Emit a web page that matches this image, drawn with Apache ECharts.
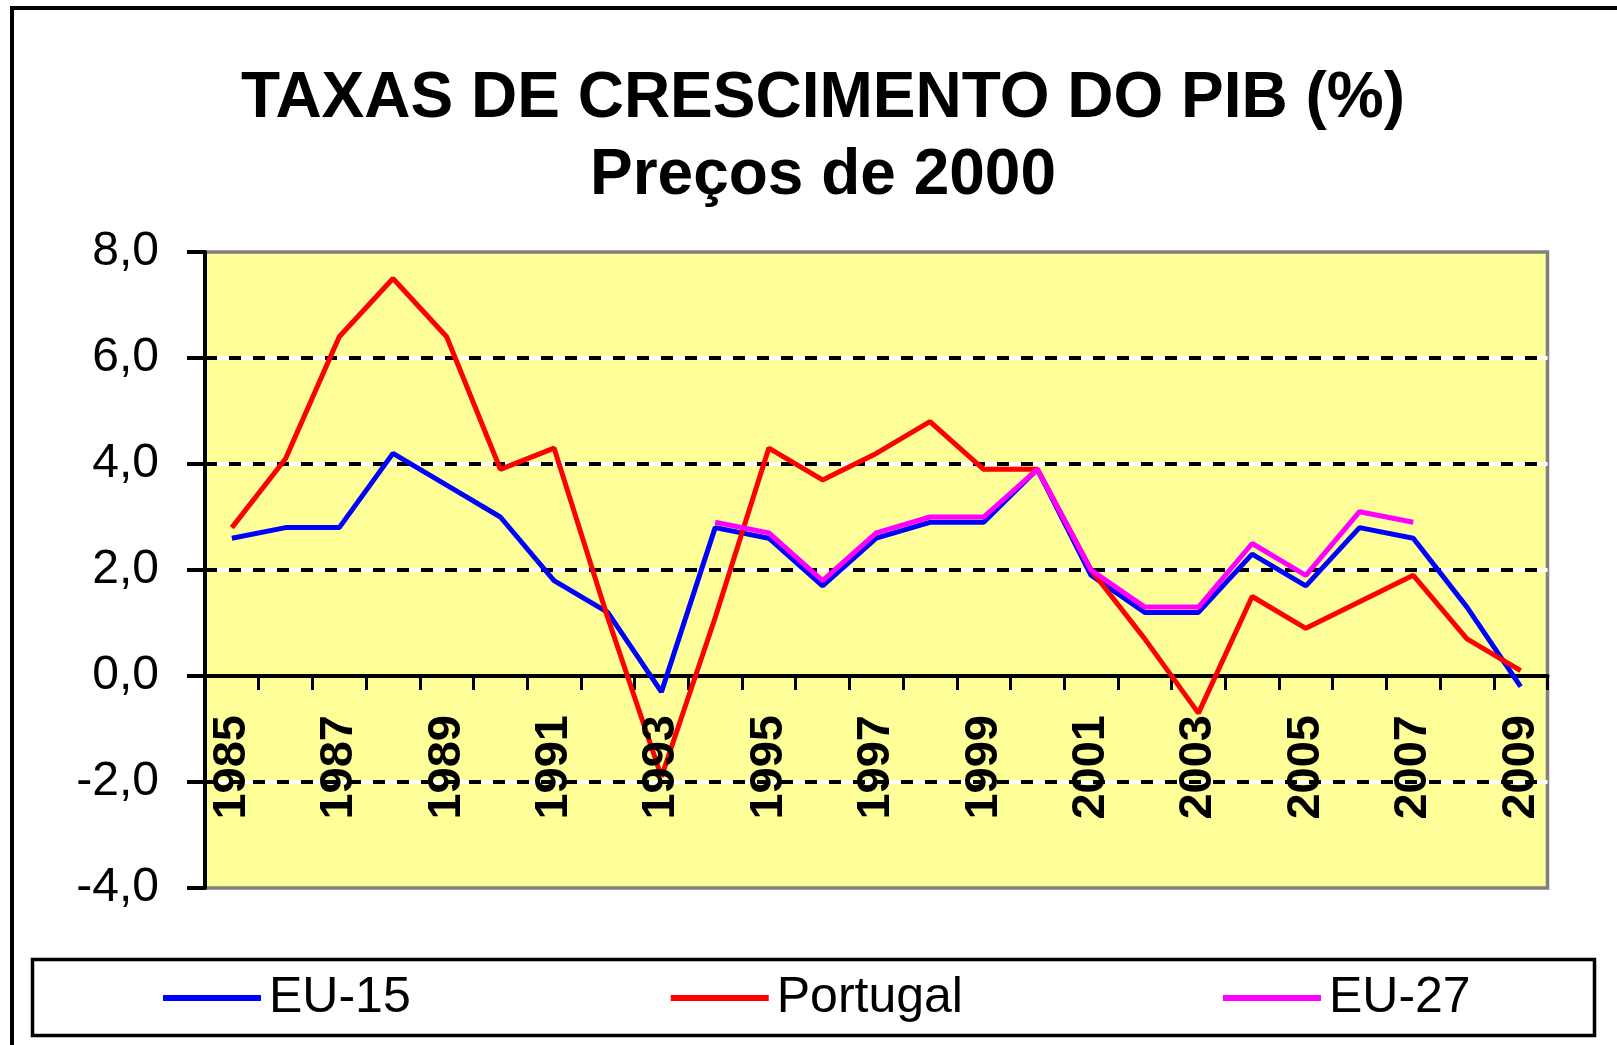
<!DOCTYPE html>
<html>
<head>
<meta charset="utf-8">
<script src="https://cdn.jsdelivr.net/npm/echarts@6/dist/echarts.min.js"></script>
<style>
  html, body { margin: 0; padding: 0; background: #fff; }
  #chart { width: 1617px; height: 1045px; }
</style>
</head>
<body>
<div id="chart"></div>
<script>
// anos e taxas
var years = ['1985', '1986', '1987', '1988', '1989', '1990', '1991', '1992', '1993', '1994',
  '1995', '1996', '1997', '1998', '1999', '2000', '2001', '2002', '2003', '2004',
  '2005', '2006', '2007', '2008', '2009'];
var eu15 = [2.6, 2.8, 2.8, 4.2, 3.6, 3.0, 1.8, 1.2, -0.3, 2.8,
  2.6, 1.7, 2.6, 2.9, 2.9, 3.9, 1.9, 1.2, 1.2, 2.3,
  1.7, 2.8, 2.6, 1.3, -0.2];
var portugal = [2.8, 4.1, 6.4, 7.5, 6.4, 3.9, 4.3, 1.1, -1.9, 1.1,
  4.3, 3.7, 4.2, 4.8, 3.9, 3.9, 2.0, 0.7, -0.7, 1.5,
  0.9, 1.4, 1.9, 0.7, 0.1];
var eu27 = [null, null, null, null, null, null, null, null, null, 2.9,
  2.7, 1.8, 2.7, 3.0, 3.0, 3.9, 2.0, 1.3, 1.3, 2.5,
  1.9, 3.1, 2.9, null, null];
var yMin = -4, yMax = 8, yStep = 2;

var font = 'Liberation Sans';
var gridTop = 252, gridBottom = 157, chartH = 1045;
var gridH = chartH - gridTop - gridBottom;
// distancia do fundo da grelha ate ao zero
var zeroOffset = gridH * (0 - yMin) / (yMax - yMin);

var chart = echarts.init(document.getElementById('chart'));

var option = {
  animation: false,
  title: {
    text: 'TAXAS DE CRESCIMENTO DO PIB (%)\nPreços de 2000',
    left: 823,
    textAlign: 'center',
    top: 61,
    padding: 0,
    textStyle: {
      fontFamily: font,
      fontSize: 64,
      fontWeight: 'bold',
      color: '#000',
      lineHeight: 77
    }
  },
  legend: {
    data: ['EU-15', 'Portugal', 'EU-27'],
    left: 163,
    top: 973,
    padding: 0,
    icon: 'rect',
    itemWidth: 98,
    itemHeight: 6,
    itemGap: 260,
    textStyle: {
      fontFamily: font,
      fontSize: 50,
      color: '#000',
      lineHeight: 50,
      padding: [0, 0, 0, 3]
    }
  },
  grid: {
    left: 205,
    right: 69.5,
    top: gridTop,
    bottom: gridBottom,
    show: true,
    backgroundColor: '#FFFF99',
    borderColor: '#808080',
    borderWidth: 3.5
  },
  xAxis: [
    {
      // linha do zero e marcas, por baixo das series
      type: 'category',
      data: years,
      boundaryGap: true,
      position: 'bottom',
      offset: -zeroOffset,
      z: 4,
      axisLine: { show: true, onZero: false, lineStyle: { color: '#000', width: 4 } },
      axisTick: { show: true, interval: 0, length: 14, lineStyle: { color: '#000', width: 3 } },
      axisLabel: { show: false },
      splitLine: { show: false }
    },
    {
      // anos, por cima das series
      type: 'category',
      data: years,
      boundaryGap: true,
      position: 'bottom',
      offset: -zeroOffset,
      z: 10,
      axisLine: { show: false, onZero: false },
      axisTick: { show: false },
      axisLabel: {
        interval: 1,
        rotate: 90,
        margin: 39,
        fontFamily: font,
        fontSize: 47,
        fontWeight: 'bold',
        color: '#000'
      },
      splitLine: { show: false }
    }
  ],
  yAxis: [
    {
      type: 'value',
      min: yMin,
      max: yMax,
      interval: yStep,
      z: 1,
      axisLine: { show: true, lineStyle: { color: '#000', width: 4 } },
      axisTick: { show: true, length: 18, lineStyle: { color: '#000', width: 4 } },
      axisLabel: {
        margin: 46,
        fontFamily: font,
        fontSize: 48,
        color: '#000',
        formatter: function (v) { return v.toFixed(1).replace('.', ','); }
      },
      splitLine: {
        show: true,
        lineStyle: {
          color: ['transparent', '#fff', '#fff', '#fff', '#fff', '#fff', 'transparent'],
          width: 4,
          type: 'solid'
        }
      }
    },
    {
      type: 'value',
      min: yMin,
      max: yMax,
      interval: yStep,
      position: 'left',
      z: 3,
      axisLine: { show: false },
      axisTick: { show: false },
      axisLabel: { show: false },
      splitLine: {
        show: true,
        lineStyle: {
          color: ['transparent', '#000', '#000', '#000', '#000', '#000', 'transparent'],
          width: 4,
          type: [12, 12]
        }
      }
    }
  ],
  graphic: [
    {
      type: 'rect',
      shape: { x: 12, y: 8, width: 1700, height: 1100 },
      style: { fill: 'none', stroke: '#000', lineWidth: 4 },
      silent: true
    },
    {
      type: 'rect',
      shape: { x: 32.5, y: 959.5, width: 1562, height: 76 },
      style: { fill: 'none', stroke: '#000', lineWidth: 3.5 },
      silent: true
    }
  ],
  series: [
    {
      name: 'EU-15',
      type: 'line',
      xAxisIndex: 0,
      data: eu15,
      symbol: 'none',
      z: 5,
      itemStyle: { color: '#0000FF' },
      lineStyle: { color: '#0000FF', width: 5 }
    },
    {
      name: 'Portugal',
      type: 'line',
      xAxisIndex: 0,
      data: portugal,
      symbol: 'none',
      z: 5,
      itemStyle: { color: '#FF0000' },
      lineStyle: { color: '#FF0000', width: 5 }
    },
    {
      name: 'EU-27',
      type: 'line',
      xAxisIndex: 0,
      data: eu27,
      symbol: 'none',
      z: 5,
      itemStyle: { color: '#FF00FF' },
      lineStyle: { color: '#FF00FF', width: 5 }
    }
  ]
};

chart.setOption(option);
</script>
</body>
</html>
